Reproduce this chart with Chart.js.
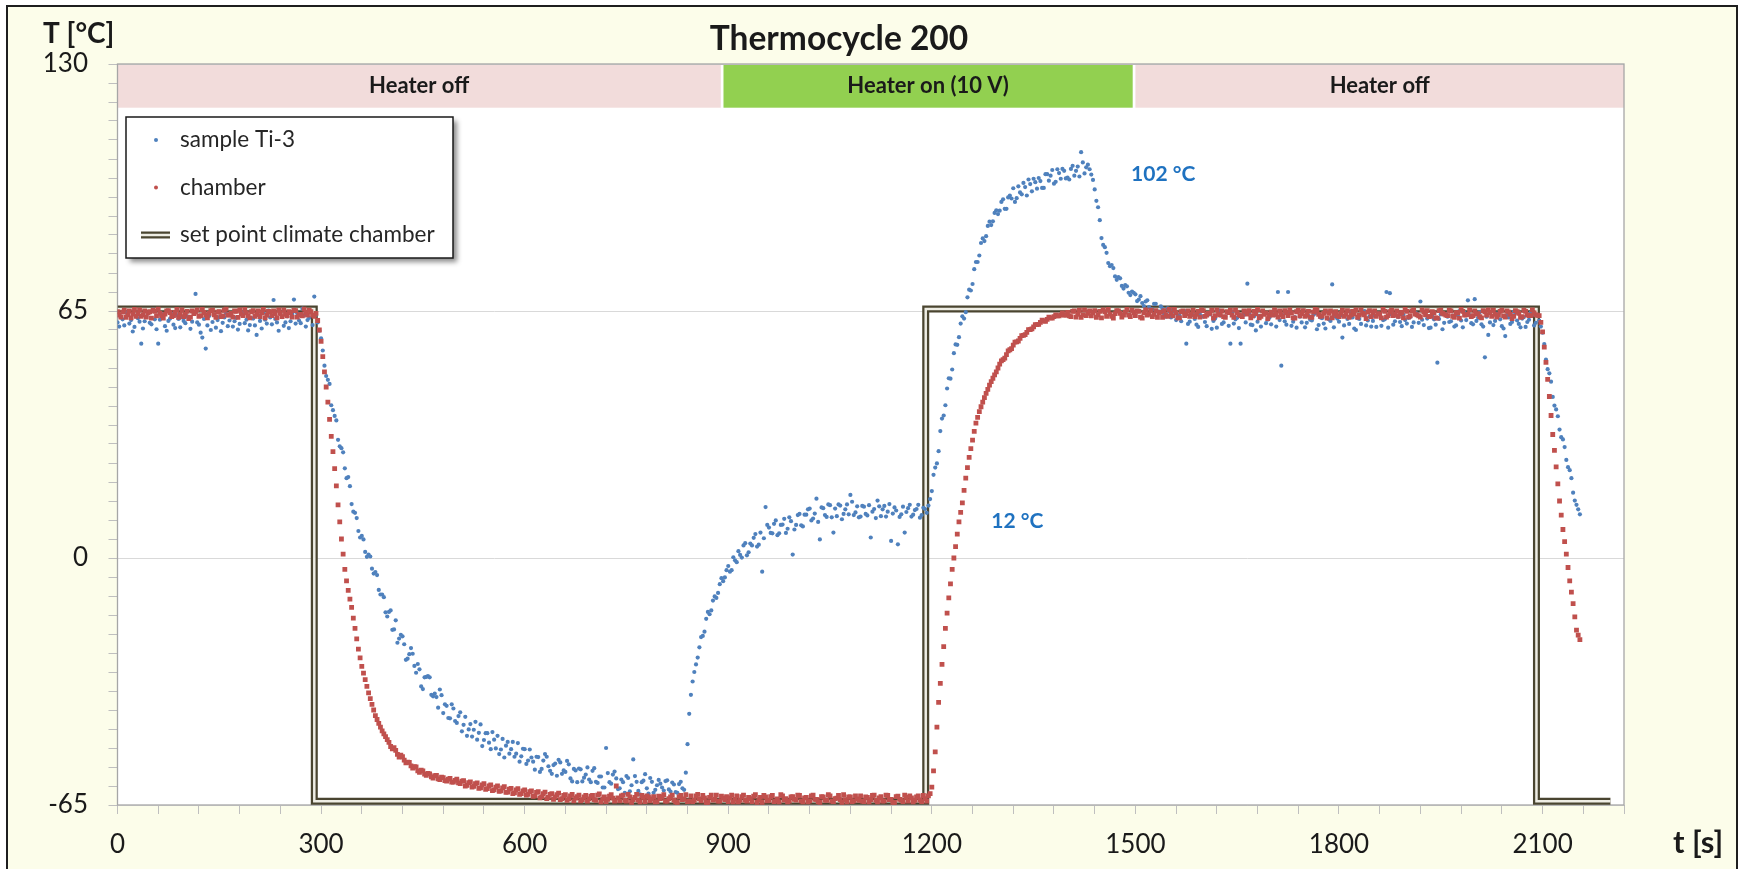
<!DOCTYPE html>
<html>
<head>
<meta charset="utf-8">
<title>Thermocycle 200</title>
<script src="https://cdn.jsdelivr.net/npm/chart.js@4/dist/chart.umd.min.js"></script>
<style>
  html, body { margin: 0; padding: 0; background: #ffffff; }
  canvas { display: block; }
</style>
</head>
<body>
<canvas id="chart" width="1741" height="869"></canvas>
<script>
// logger interval in seconds; the *Mid arrays are the readings taken half an interval later
const dt = 5;

// sample Ti-3, t = 0, 5, ... 2155 s
const sampleTemp = [
  62.0, 63.5, 61.2, 64.0, 62.6, 60.8, 63.1, 56.4, 62.3, 64.4, 61.5, 62.8, 56.4, 63.6, 61.0, 62.4, 64.2, 60.5, 62.9, 63.3,
  61.8, 63.0, 62.2, 69.5, 61.4, 58.0, 55.1, 63.7, 62.1, 60.6, 63.4, 61.9, 64.3, 62.5, 60.9, 63.2, 61.6, 64.1, 62.7, 61.3,
  63.0, 58.7, 62.4, 64.5, 61.7, 63.3, 67.9, 62.0, 64.2, 61.1, 63.6, 62.3, 68.0, 64.4, 61.8, 63.9, 62.6, 64.8, 68.8, 62.0,
  57.8, 50.6, 46.9, 40.2, 37.4, 31.1, 28.9, 23.6, 21.3, 14.2, 11.9, 7.1, 5.8, 1.6, 0.9, -2.8, -3.7, -8.4, -9.6, -14.3,
  -14.2, -18.9, -16.4, -21.2, -20.6, -26.8, -25.3, -25.2, -30.2, -29.3, -34.5, -31.3, -31.4, -36.4, -36.6, -34.6, -40.8, -38.9, -42.2, -39.6,
  -43.4, -40.6, -43.9, -46.8, -43.7, -45.2, -47.8, -43.8, -47.9, -46.1, -50.3, -47.8, -46.8, -50.4, -52.5, -48.4, -50.3, -52.3, -48.7, -52.2,
  -50.3, -53.3, -52.5, -55.7, -52.4, -55.5, -51.6, -54.8, -56.8, -54.1, -53.1, -56.8, -56.3, -54.3, -58.8, -55.9, -55.4, -58.8, -57.0, -58.3,
  -56.0, -58.9, -57.5, -60.4, -50.0, -59.0, -57.0, -58.0, -60.6, -59.0, -57.4, -61.4, -53.0, -58.9, -62.2, -58.6, -60.6, -57.9, -61.8, -59.8,
  -59.4, -61.2, -58.5, -61.5, -59.6, -61.8, -58.9, -61.0, -49.0, -36.0, -30.0, -26.2, -20.8, -19.4, -14.2, -13.8, -10.1, -9.2, -5.3, -5.1,
  -2.1, -3.2, -0.6, 1.8, 0.1, 3.9, 1.5, 3.3, 6.3, 3.5, -3.6, 13.4, 8.0, 6.5, 9.9, 6.5, 8.8, 6.6, 10.7, 0.9,
  8.7, 11.6, 8.3, 11.4, 13.0, 10.4, 15.6, 4.9, 13.1, 10.8, 13.9, 6.7, 11.0, 13.8, 11.6, 14.1, 16.6, 11.3, 13.6, 10.9,
  13.5, 11.2, 5.4, 12.9, 15.1, 11.0, 13.7, 12.2, 4.5, 13.3, 3.6, 11.5, 6.7, 13.1, 10.9, 12.6, 14.0, 11.3, 12.9, 13.8,
  17.6, 23.8, 28.1, 36.7, 40.2, 47.3, 49.6, 56.2, 58.1, 63.6, 64.7, 70.6, 72.1, 77.9, 79.6, 84.1, 84.7, 88.5, 88.6, 91.5,
  91.4, 94.4, 91.9, 95.4, 97.3, 94.7, 96.2, 98.7, 95.4, 98.4, 99.8, 97.2, 99.2, 97.4, 101.0, 100.6, 98.5, 102.3, 99.8, 101.9,
  100.1, 102.4, 100.6, 103.0, 106.8, 101.2, 103.5, 100.9, 97.0, 92.3, 84.2, 81.8, 77.6, 77.1, 74.1, 73.9, 71.6, 71.8, 69.8, 70.1,
  69.4, 68.0, 67.1, 67.5, 66.0, 65.4, 66.9, 64.8, 65.6, 63.5, 64.9, 65.3, 62.6, 63.8, 64.7, 56.4, 62.2, 63.9, 61.4, 64.2,
  63.5, 61.0, 64.1, 62.4, 60.6, 63.8, 62.0, 64.6, 56.4, 61.7, 63.2, 56.4, 64.0, 72.2, 61.4, 63.6, 62.2, 60.9, 64.3, 62.7,
  61.5, 63.9, 70.0, 50.6, 62.3, 70.0, 61.1, 63.4, 64.8, 62.0, 60.7, 63.7, 62.5, 64.4, 61.3, 63.1, 60.4, 62.8, 72.0, 63.5,
  62.2, 58.0, 64.1, 61.6, 63.3, 60.0, 62.9, 64.5, 61.2, 63.6, 62.4, 60.8, 64.2, 62.6, 70.0, 69.7, 61.4, 63.8, 62.1, 64.0,
  61.7, 63.4, 62.0, 64.3, 67.5, 61.3, 63.0, 60.6, 62.8, 51.4, 64.1, 61.9, 63.5, 62.3, 60.9, 63.9, 62.5, 64.6, 67.8, 61.8,
  68.1, 63.2, 61.5, 52.8, 58.7, 63.7, 62.4, 64.2, 61.0, 58.4, 63.3, 62.1, 64.5, 61.6, 63.0, 60.8, 62.7, 64.0, 61.9, 62.5,
  59.3, 52.2, 48.6, 42.4, 39.1, 33.8, 31.2, 25.8, 23.1, 17.2, 14.0, 11.5
];

// sample Ti-3, t = 2.5, 7.5, ... 2152.5 s
const sampleTempMid = [
  60.9, 62.8, 64.6, 61.7, 59.6, 63.8, 62.2, 60.4, 63.5, 61.9, 65.4, 60.2, 62.7, 64.1, 59.8, 63.0, 61.4, 63.9, 60.7, 62.4,
  63.6, 60.3, 64.5, 62.0, 59.3, 62.9, 61.2, 60.0, 64.0, 62.6, 59.7, 63.3, 61.0, 63.8, 62.3, 60.1, 64.6, 61.8, 59.9, 63.1,
  61.2, 63.9, 60.4, 62.7, 65.1, 61.5, 62.9, 59.8, 63.4, 62.0, 60.5, 64.3, 61.7, 62.5, 65.6, 60.9, 63.2, 61.3, 64.0, 59.8,
  54.6, 47.9, 45.8, 38.9, 36.2, 29.4, 27.8, 21.0, 18.9, 12.2, 10.5, 5.4, 4.9, 0.3, 0.4, -4.1, -4.5, -9.6, -10.3, -15.4,
  -13.8, -18.8, -22.3, -20.2, -22.7, -26.5, -23.7, -28.4, -27.9, -33.8, -31.4, -31.1, -36.0, -35.7, -39.4, -36.1, -38.5, -42.1, -38.5, -42.9,
  -41.6, -45.6, -41.8, -45.1, -47.0, -43.1, -46.0, -49.5, -46.1, -48.6, -45.8, -50.1, -51.6, -47.6, -49.4, -51.5, -48.4, -51.5, -53.6, -50.2,
  -54.2, -50.4, -53.6, -52.3, -56.3, -53.3, -52.3, -56.0, -54.5, -57.3, -53.8, -55.9, -53.4, -58.0, -55.5, -59.0, -55.6, -57.8, -55.1, -59.0,
  -55.3, -59.2, -57.5, -60.4, -56.6, -59.4, -56.2, -60.8, -58.3, -61.8, -57.9, -59.8, -57.4, -61.3, -59.0, -56.9, -62.0, -58.9, -61.0, -58.4,
  -60.4, -58.7, -60.9, -59.1, -61.6, -59.5, -60.6, -56.5, -41.0, -32.5, -28.0, -23.5, -20.5, -16.0, -14.8, -11.2, -10.5, -6.9, -6.1, -3.2,
  -3.6, 0.2, -1.1, 0.8, 3.3, 0.7, 3.8, 5.3, 3.0, 6.7, 5.2, 8.7, 6.6, 9.0, 6.0, 8.7, 10.3, 7.7, 9.7, 7.5,
  11.3, 8.6, 11.4, 12.8, 9.9, 11.7, 9.5, 13.3, 11.3, 14.1, 10.7, 13.0, 14.1, 10.2, 12.8, 11.5, 14.8, 12.0, 10.7, 13.7,
  11.6, 13.9, 12.2, 10.5, 13.6, 12.8, 10.9, 14.2, 11.7, 12.5, 10.8, 13.5, 12.1, 14.0, 11.4, 12.9, 10.6, 13.2, 11.9, 15.5,
  21.9, 24.9, 33.4, 37.5, 44.6, 47.2, 53.9, 56.1, 61.7, 63.0, 68.6, 70.4, 76.0, 77.9, 82.9, 83.4, 87.4, 87.6, 90.8, 90.5,
  93.7, 91.9, 94.9, 94.6, 93.7, 97.8, 95.7, 97.6, 99.6, 96.5, 98.9, 100.0, 97.4, 101.0, 99.3, 102.1, 99.0, 101.3, 102.4, 99.9,
  99.6, 103.2, 101.9, 100.4, 104.1, 102.8, 102.3, 99.5, 94.0, 88.9, 82.4, 80.3, 76.8, 76.3, 73.2, 73.6, 70.9, 71.5, 69.2, 69.8,
  67.6, 68.9, 66.3, 67.8, 65.5, 66.9, 64.9, 66.2, 64.1, 65.7, 63.3, 64.8, 63.9, 62.3, 65.0, 61.6, 64.2, 62.9, 60.8, 63.6,
  62.1, 64.4, 60.3, 63.0, 65.2, 61.6, 63.5, 61.1, 64.7, 62.8, 60.5, 63.9, 62.0, 64.3, 61.3, 59.9, 63.7, 65.0, 61.8, 63.2,
  64.1, 60.9, 62.6, 63.9, 61.4, 64.5, 62.2, 60.6, 63.5, 65.1, 61.9, 62.7, 64.0, 60.2, 63.3, 61.7, 64.8, 62.4, 60.7, 63.0,
  63.8, 61.2, 62.9, 64.6, 60.4, 63.1, 61.6, 65.0, 62.5, 60.9, 63.7, 64.4, 61.1, 62.8, 60.6, 64.1, 62.3, 63.4, 61.0, 62.6,
  63.2, 60.8, 64.5, 61.9, 62.7, 64.9, 60.5, 63.6, 61.4, 62.9, 60.2, 64.2, 62.1, 63.8, 61.2, 65.0, 60.7, 62.6, 63.9, 61.5,
  62.4, 64.7, 60.9, 63.5, 62.0, 61.3, 64.3, 62.8, 60.4, 63.9, 61.6, 64.8, 62.5, 60.7, 63.4, 62.1, 64.6, 61.2, 63.7, 60.9,
  56.3, 49.7, 46.4, 40.1, 37.3, 31.8, 29.2, 23.9, 21.0, 15.1, 12.8
];

// chamber air, t = 0, 5, ... 2155 s
const chamberTemp = [
  64.8, 63.4, 65.2, 64.0, 63.2, 65.4, 64.3, 63.6, 65.0, 64.5, 63.1, 64.9, 65.5, 63.8, 64.2, 65.1, 63.5, 64.6, 63.3, 65.3,
  64.1, 63.0, 65.0, 64.7, 63.6, 65.4, 63.9, 64.4, 65.2, 63.3, 64.8, 63.7, 65.5, 64.0, 63.4, 64.9, 65.3, 63.8, 64.5, 63.2,
  65.1, 64.2, 63.5, 65.4, 63.9, 64.7, 65.0, 63.2, 64.4, 65.3, 63.7, 64.6, 65.2, 63.4, 64.1, 65.5, 63.9, 64.8, 63.6, 62.5,
  57.0, 49.0, 41.0, 32.0, 23.5, 14.0, 5.0, -3.0, -8.5, -13.0, -18.5, -24.0, -28.5, -32.0, -35.5, -38.5, -41.5, -43.5, -45.5, -47.0,
  -48.5, -50.2, -50.6, -52.4, -52.3, -53.9, -53.8, -55.3, -55.0, -56.4, -56.0, -57.2, -56.8, -57.9, -57.2, -58.3, -57.8, -58.7, -58.0, -59.0,
  -58.2, -59.4, -58.6, -59.8, -58.9, -60.1, -59.2, -60.5, -59.4, -60.7, -59.7, -61.0, -60.0, -61.3, -60.2, -61.6, -60.6, -61.8, -60.7, -62.0,
  -61.0, -62.2, -61.3, -62.6, -61.5, -62.8, -61.6, -63.0, -62.0, -62.9, -61.9, -63.3, -62.3, -63.4, -62.2, -63.2, -62.4, -63.6, -62.5, -63.4,
  -62.5, -63.8, -62.1, -63.4, -64.1, -62.7, -63.2, -60.0, -63.9, -62.4, -64.0, -62.9, -63.6, -62.2, -64.2, -63.0, -62.6, -63.9, -62.8, -64.1,
  -63.3, -62.3, -64.0, -62.9, -63.7, -64.3, -62.5, -63.4, -64.1, -62.6, -63.8, -62.2, -63.9, -63.1, -64.3, -62.4, -63.5, -64.0, -62.7, -63.6,
  -64.1, -62.4, -63.5, -64.2, -62.8, -63.7, -63.0, -64.1, -62.3, -63.6, -64.3, -62.9, -63.8, -62.5, -63.9, -64.2, -62.6, -63.3, -64.0, -62.8,
  -63.7, -62.5, -64.2, -63.0, -63.9, -62.4, -63.5, -64.3, -62.9, -63.8, -62.6, -64.1, -63.2, -63.6, -62.3, -64.2, -62.9, -63.9, -63.4, -62.6,
  -64.1, -63.0, -63.6, -62.4, -64.2, -62.8, -63.9, -62.5, -63.5, -64.3, -62.7, -63.7, -62.4, -64.0, -63.1, -63.8, -62.6, -64.1, -63.3, -62.6,
  -60.3, -51.0, -38.0, -28.0, -18.5, -10.5, -3.0, 3.0, 9.5, 14.5, 21.0, 26.5, 31.0, 35.5, 38.5, 41.0, 43.3, 45.5, 47.3, 49.0,
  51.0, 52.2, 53.5, 54.8, 56.0, 56.9, 57.8, 58.6, 59.4, 60.1, 60.8, 61.4, 62.0, 62.4, 62.8, 63.2, 63.5, 63.7, 64.0, 63.9,
  64.6, 63.5, 65.0, 64.1, 63.3, 65.3, 64.4, 63.7, 65.1, 64.0, 63.2, 64.8, 65.4, 63.6, 64.3, 65.0, 63.4, 64.7, 63.9, 65.2,
  63.8, 64.9, 63.1, 65.3, 64.2, 63.5, 65.1, 64.6, 63.3, 64.0, 65.4, 63.7, 64.5, 63.2, 65.0, 64.3, 63.6, 65.2, 64.1, 63.4,
  65.1, 63.9, 64.4, 63.1, 65.3, 64.0, 63.5, 64.8, 65.2, 63.3, 64.6, 63.8, 65.0, 64.2, 63.2, 64.9, 65.4, 63.6, 64.1, 63.0,
  64.7, 65.3, 63.4, 64.0, 65.1, 63.8, 64.5, 63.1, 65.2, 64.3, 63.6, 64.9, 63.3, 65.4, 64.1, 63.7, 65.0, 64.4, 63.2, 64.8,
  63.5, 65.2, 64.1, 63.3, 64.9, 65.3, 63.9, 64.4, 63.0, 65.1, 64.6, 63.6, 64.2, 65.4, 63.4, 64.8, 63.8, 65.0, 64.3, 63.2,
  64.9, 63.7, 65.3, 64.0, 63.4, 64.7, 65.1, 63.6, 64.5, 63.1, 65.2, 64.2, 63.8, 65.0, 63.3, 64.6, 65.4, 63.9, 64.1, 63.5,
  65.0, 64.3, 63.2, 64.8, 65.3, 63.6, 64.1, 63.9, 65.2, 63.4, 64.7, 63.0, 65.1, 64.4, 63.5, 64.9, 63.8, 65.3, 64.0, 63.8,
  59.5, 51.5, 42.5, 32.5, 24.0, 15.0, 7.5, 1.0, -6.0, -12.0, -19.0, -21.5
];

// chamber air, t = 2.5, 7.5, ... 2152.5 s
const chamberTempMid = [
  63.9, 64.7, 63.3, 65.0, 64.2, 63.6, 65.3, 64.0, 63.4, 64.8, 65.2, 63.7, 64.4, 63.1, 65.0, 64.6, 63.8, 65.4, 64.1, 63.5,
  64.9, 63.4, 64.3, 65.3, 63.8, 64.6, 63.2, 65.1, 64.0, 64.7, 63.5, 65.2, 63.9, 64.4, 65.0, 63.3, 64.2, 65.4, 63.7, 64.8,
  63.6, 65.0, 64.5, 63.2, 64.9, 63.8, 64.3, 65.3, 63.5, 64.1, 64.8, 63.4, 65.1, 64.0, 63.7, 64.6, 65.2, 63.9, 64.4, 60.0,
  53.0, 45.0, 36.5, 28.0, 19.0, 9.5, 1.0, -6.0, -10.8, -15.8, -21.3, -26.3, -30.3, -33.8, -37.0, -40.0, -42.5, -44.5, -46.3, -47.8,
  -49.6, -49.9, -51.7, -51.9, -53.2, -53.7, -54.7, -54.9, -56.0, -55.8, -56.9, -56.7, -57.6, -57.3, -58.1, -57.7, -58.6, -58.2, -59.0, -58.5,
  -59.2, -58.7, -60.0, -59.1, -60.3, -59.4, -60.6, -59.7, -60.9, -60.0, -61.2, -60.3, -61.4, -60.5, -61.7, -60.8, -62.0, -61.0, -62.2, -61.3,
  -62.4, -61.5, -62.7, -61.7, -63.1, -62.0, -63.3, -62.2, -63.5, -62.3, -63.6, -62.5, -63.8, -62.6, -63.9, -62.8, -63.9, -62.9, -64.0, -62.7,
  -63.6, -62.4, -64.2, -62.9, -63.5, -62.3, -64.0, -63.1, -62.6, -63.8, -62.2, -64.3, -63.0, -63.7, -62.5, -64.1, -62.9, -63.4, -64.2, -62.7,
  -62.8, -64.0, -63.3, -62.4, -64.2, -62.9, -63.6, -62.3, -63.9, -64.1, -62.6, -63.4, -62.5, -64.3, -63.0, -63.7, -62.4, -64.0, -63.2, -62.8,
  -63.1, -64.2, -62.6, -63.8, -62.4, -64.0, -63.3, -62.7, -64.3, -63.0, -62.5, -63.9, -62.8, -64.1, -63.4, -62.3, -63.7, -64.2, -62.9, -63.5,
  -62.4, -63.9, -63.1, -64.2, -62.6, -63.5, -64.1, -62.8, -63.7, -62.3, -64.0, -63.3, -62.5, -64.3, -63.6, -62.9, -64.1, -62.6, -63.8, -64.0,
  -62.9, -64.2, -62.5, -63.8, -63.1, -64.0, -62.4, -63.6, -64.3, -62.8, -63.5, -64.1, -63.0, -62.6, -64.2, -62.9, -63.7, -62.5, -64.0, -62.0,
  -56.0, -44.5, -33.0, -23.3, -14.5, -6.8, 0.0, 6.3, 12.0, 17.8, 23.8, 28.8, 33.3, 37.0, 39.8, 42.2, 44.4, 46.4, 48.2, 50.0,
  51.9, 52.6, 54.5, 55.1, 56.8, 57.1, 58.5, 58.8, 60.1, 60.3, 61.4, 61.5, 62.6, 62.3, 63.4, 63.1, 64.0, 63.7, 64.5, 63.9,
  63.7, 64.9, 63.4, 65.2, 64.0, 63.8, 65.0, 64.5, 63.3, 64.9, 65.3, 63.6, 64.2, 63.1, 65.1, 64.4, 63.9, 65.4, 63.5, 64.6,
  65.0, 63.4, 64.5, 63.9, 65.2, 64.1, 63.3, 64.7, 65.1, 63.6, 64.3, 65.4, 63.2, 64.8, 63.8, 65.0, 64.2, 63.5, 64.9, 65.3,
  63.6, 64.4, 65.2, 63.8, 64.1, 65.0, 63.3, 64.6, 63.9, 65.3, 64.0, 63.5, 64.8, 65.1, 63.7, 64.3, 63.2, 65.0, 64.5, 63.9,
  63.9, 64.2, 65.0, 63.5, 64.6, 65.3, 63.2, 64.8, 63.7, 65.1, 64.0, 63.4, 64.7, 65.2, 63.6, 64.4, 63.1, 65.0, 64.3, 63.8,
  64.4, 63.6, 65.1, 63.9, 64.2, 63.3, 65.3, 64.0, 64.7, 63.5, 65.0, 64.3, 63.2, 64.9, 63.8, 65.2, 64.1, 63.6, 64.6, 65.4,
  63.4, 65.0, 64.2, 63.7, 65.3, 64.0, 63.5, 64.8, 63.2, 65.1, 64.4, 63.9, 65.2, 63.6, 64.5, 63.1, 64.9, 64.0, 65.3, 63.8,
  64.2, 63.5, 65.1, 63.9, 64.6, 65.2, 63.4, 64.9, 63.7, 65.0, 64.1, 63.6, 64.8, 63.3, 65.2, 64.0, 63.8, 64.5, 63.9, 62.0,
  55.5, 47.0, 37.5, 28.3, 19.5, 11.3, 4.3, -2.5, -9.0, -15.5, -20.3
];

// set point of the climate chamber (step profile)
const setPointTime = [0, 290, 290, 1191, 1191, 2091, 2091, 2200];
const setPointTemp = [65.5, 65.5, -64, -64, 65.5, 65.5, -64, -64];

// heater phases shown as a strip along the top
const phaseStart = [0, 893, 1500];
const phaseEnd = [889, 1496, 2220];
const phaseLabels = ['Heater off', 'Heater on (10 V)', 'Heater off'];
const phaseColors = ['#f2dcdb', '#92d050', '#f2dcdb'];
const phaseBottom = 118.5;

// value notes
const noteText = ['102 °C', '12 °C'];
const noteTime = [1541, 1326];
const noteTemp = [101.1, 9.8];

const toPoints = (values, offset) => values.map((y, i) => ({ x: offset + i * dt, y }));
const setPoints = setPointTime.map((t, i) => ({ x: t, y: setPointTemp[i] }));

const setPointInner = '#eeede4';

Chart.defaults.font.family = 'Lato, "Open Sans", sans-serif';
Chart.defaults.color = '#1a1a1a';

const frame = {
  id: 'frame',
  beforeDraw(chart) {
    const { ctx, chartArea: a, scales: { x, y } } = chart;
    ctx.save();
    ctx.fillStyle = '#ffffff';
    ctx.fillRect(0, 0, chart.width, chart.height);
    ctx.fillStyle = '#fcfdea';
    ctx.fillRect(7, 6, 1730, 880);
    ctx.strokeStyle = '#1e1e1e';
    ctx.lineWidth = 2;
    ctx.strokeRect(7, 6, 1730, 880);
    ctx.fillStyle = '#ffffff';
    ctx.fillRect(a.left, a.top, a.width, a.height);

    const top = y.getPixelForValue(130);
    const bottom = y.getPixelForValue(phaseBottom);
    phaseStart.forEach((s, i) => {
      const l = x.getPixelForValue(s);
      const r = x.getPixelForValue(phaseEnd[i]);
      ctx.fillStyle = phaseColors[i];
      ctx.fillRect(l, top, r - l, bottom - top);
    });
    ctx.restore();
  },
  beforeDatasetsDraw(chart) {
    const { ctx, chartArea: a, scales: { x, y } } = chart;
    ctx.save();
    ctx.strokeStyle = '#a6a6a6';
    ctx.lineWidth = 1.3;
    ctx.strokeRect(a.left, a.top, a.width, a.height);

    ctx.font = 'bold 22px Lato';
    ctx.fillStyle = '#1a1a1a';
    ctx.textAlign = 'center';
    ctx.textBaseline = 'middle';
    const mid = (y.getPixelForValue(130) + y.getPixelForValue(phaseBottom)) / 2;
    phaseLabels.forEach((label, i) => {
      const cx = (x.getPixelForValue(phaseStart[i]) + x.getPixelForValue(phaseEnd[i])) / 2;
      ctx.fillText(label, cx, mid);
    });
    ctx.restore();
  },
  afterDraw(chart) {
    const { ctx, scales: { x, y } } = chart;
    ctx.save();
    ctx.fillStyle = '#1a1a1a';
    ctx.textBaseline = 'middle';

    ctx.font = 'bold 33.5px Lato';
    ctx.textAlign = 'center';
    ctx.fillText('Thermocycle 200', 839, 39);

    ctx.textAlign = 'left';
    ctx.font = 'bold 28px Lato';
    ctx.fillText('T [°C]', 43, 34);
    ctx.font = 'bold 31px Lato';
    ctx.fillText('t [s]', 1673, 843);

    ctx.font = 'bold 21px Lato';
    ctx.fillStyle = '#1f72c0';
    ctx.textAlign = 'center';
    noteText.forEach((txt, i) => {
      ctx.fillText(txt, x.getPixelForValue(noteTime[i]), y.getPixelForValue(noteTemp[i]));
    });

    // legend box
    const left = 126, top = 117, w = 327, h = 141;
    ctx.save();
    ctx.shadowColor = 'rgba(0,0,0,0.45)';
    ctx.shadowBlur = 5;
    ctx.shadowOffsetX = 4;
    ctx.shadowOffsetY = 4;
    ctx.fillStyle = '#ffffff';
    ctx.fillRect(left, top, w, h);
    ctx.restore();
    ctx.strokeStyle = '#1a1a1a';
    ctx.lineWidth = 1.5;
    ctx.strokeRect(left, top, w, h);

    ctx.font = '22.5px Lato';
    ctx.textAlign = 'left';
    chart.data.datasets.filter(d => d.label).forEach((d, i) => {
      const cy = top + 23 + i * 47.5;
      if (d.showLine) {
        ctx.beginPath();
        ctx.moveTo(141, cy);
        ctx.lineTo(170, cy);
        ctx.lineWidth = d.borderWidth;
        ctx.strokeStyle = d.borderColor;
        ctx.stroke();
        ctx.lineWidth = 2.5;
        ctx.strokeStyle = setPointInner;
        ctx.stroke();
      } else {
        ctx.fillStyle = d.backgroundColor;
        ctx.beginPath();
        ctx.arc(156, cy, 2, 0, Math.PI * 2);
        ctx.fill();
      }
      ctx.fillStyle = '#262626';
      ctx.fillText(d.label, 180, cy);
    });
    ctx.restore();
  }
};

new Chart(document.getElementById('chart'), {
  type: 'scatter',
  data: {
    datasets: [
      {
        label: 'sample Ti-3',
        data: [...toPoints(sampleTemp, 0), ...toPoints(sampleTempMid, dt / 2)],
        backgroundColor: '#4f81bd',
        borderWidth: 0,
        pointRadius: 2.1,
        order: 1
      },
      {
        label: 'chamber',
        data: [...toPoints(chamberTemp, 0), ...toPoints(chamberTempMid, dt / 2)],
        backgroundColor: '#c0504d',
        borderWidth: 0,
        pointStyle: 'rect',
        pointRadius: 3.4,
        order: 0
      },
      {
        label: 'set point climate chamber',
        data: setPoints,
        showLine: true,
        borderColor: '#4a4530',
        borderWidth: 7,
        borderJoinStyle: 'miter',
        pointRadius: 0,
        order: 3
      },
      {
        label: '',
        data: setPoints,
        showLine: true,
        borderColor: setPointInner,
        borderWidth: 2.5,
        borderJoinStyle: 'miter',
        pointRadius: 0,
        order: 2
      }
    ]
  },
  options: {
    responsive: false,
    animation: false,
    devicePixelRatio: 1,
    events: [],
    layout: { padding: { top: 64, right: 117, bottom: 0, left: 0 } },
    plugins: {
      legend: { display: false },
      tooltip: { enabled: false }
    },
    scales: {
      x: {
        type: 'linear',
        min: 0,
        max: 2220,
        afterFit: s => { s.height = 64; },
        border: { display: false },
        grid: { drawOnChartArea: false, tickLength: 9, tickColor: '#bfbfbf' },
        ticks: {
          stepSize: 60,
          autoSkip: false,
          maxRotation: 0,
          padding: 15,
          font: { size: 26 },
          callback: v => (v % 300 === 0 ? v : '')
        }
      },
      y: {
        min: -65,
        max: 130,
        afterFit: s => { s.width = 117.5; },
        border: { display: false },
        grid: {
          color: c => (c.tick && c.tick.value % 65 === 0 ? '#d9d9d9' : 'rgba(0,0,0,0)'),
          tickColor: '#bfbfbf',
          tickLength: 9
        },
        ticks: {
          stepSize: 5,
          autoSkip: false,
          padding: 20.5,
          font: { size: 26 },
          callback: v => (v % 65 === 0 ? v : '')
        }
      }
    }
  },
  plugins: [frame]
});
</script>
</body>
</html>
